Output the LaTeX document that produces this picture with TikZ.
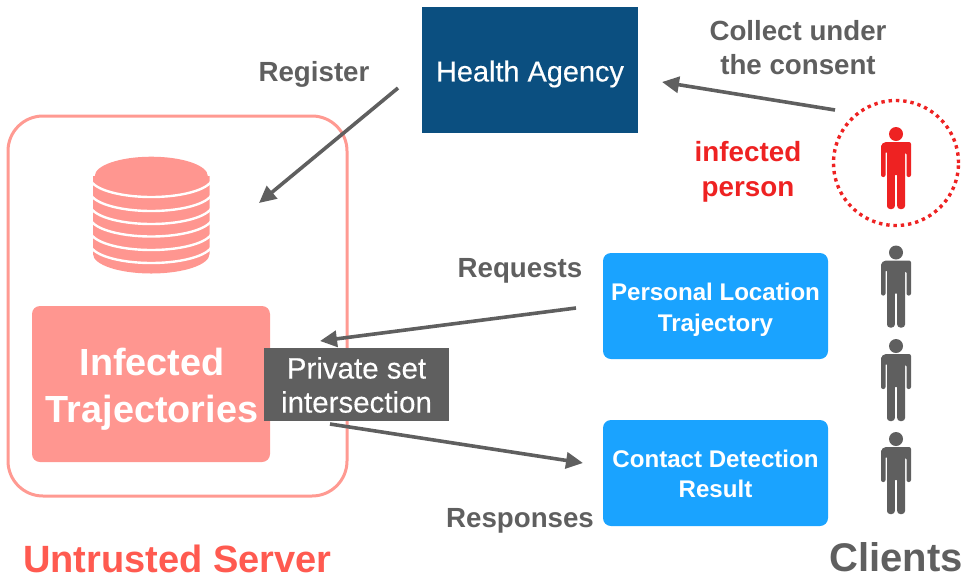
\documentclass[tikz,border=0pt]{standalone}
\usepackage{fontspec}
\setmainfont{Liberation Sans}
\newfontfamily\medfont[FakeBold=0.25]{Liberation Sans}
\usetikzlibrary{arrows.meta}
\definecolor{salmon}{HTML}{FF9690}
\definecolor{salmonline}{HTML}{FF9A92}
\definecolor{slate}{HTML}{5F5F5F}
\definecolor{navy}{HTML}{0B4F80}
\definecolor{sky}{HTML}{1AA3FF}
\definecolor{alert}{HTML}{EE2222}
\definecolor{untrust}{HTML}{FF5A50}
\newcommand{\fs}[2]{\fontsize{#1}{#2}\selectfont}
\tikzset{
  x=1pt,y=-1pt,
  flow/.style={draw=slate,line width=3.6pt,-{Triangle[length=17pt,width=16pt]}},
  graylabel/.style={text=slate,font=\bfseries\fs{27.7}{34},align=center,inner sep=0pt},
  redlabel/.style={text=alert,font=\bfseries\fs{27.8}{35},align=center,inner sep=0pt},
  bluebox/.style={fill=sky,rounded corners=8pt,minimum width=225pt,minimum height=106pt,inner sep=0pt},
  boxtext/.style={text=white,font=\bfseries\fs{24.1}{30.5},align=center,inner sep=0pt},
  person/.pic={
    \fill (0,0) circle (7);
    \fill[rounded corners=2.2pt] (-15,13) [rounded corners=5pt] -- (-15,8) [rounded corners=2pt] -- (15,8) -- (15,43) -- (10.5,43) -- (10.5,18.5) -- (9,18.5) -- (9,70) [rounded corners=3pt] -- (9,75) -- (1.2,75) [rounded corners=0pt] -- (1.2,41) -- (-1.2,41) [rounded corners=3pt] -- (-1.2,75) -- (-9,75) [rounded corners=0pt] -- (-9,18.5) -- (-10.5,18.5) [rounded corners=2pt] -- (-10.5,43) -- (-15,43) -- cycle;
  }
}
\begin{document}
\begin{tikzpicture}
\useasboundingbox (0,0) rectangle (969,579);
% server frame
\node[draw=salmonline,line width=3pt,rounded corners=35pt,minimum width=339pt,minimum height=380pt,inner sep=0pt] (server) at (177.5,306) {};
% database
\fill[salmon] (93,176) rectangle (209.5,254) (93,254) arc[start angle=180,end angle=0,x radius=58.25,y radius=19.5] -- cycle;
\foreach \yy in {177.5,191.5,204.5,217,230.5,243.5}
  \draw[white,line width=2.4pt] (90,\yy) arc[start angle=180,end angle=0,x radius=61.25,y radius=19.5];
\fill[white] (85,150) rectangle (217,176);
\fill[salmon] (151.3,176) ellipse[x radius=56.5,y radius=19.3];
% boxes
\node[fill=salmon,rounded corners=8pt,minimum width=238pt,minimum height=156pt,inner sep=0pt] (infected) at (151,384) {};
\node[text=white,font=\bfseries\fs{37.8}{47},align=center,inner sep=0pt] (infectedtext) at (152,389) {Infected\\Trajectories};
\node[fill=navy,minimum width=216pt,minimum height=126pt,inner sep=0pt] (agency) at (530,70) {};
\node[text=white,font=\medfont\fs{28.9}{34},inner sep=0pt] (agencytext) at (530,74) {Health Agency};
\node[bluebox] (personal) at (715.5,306) {};
\node[boxtext] (personaltext) at (715.5,310) {Personal Location\\Trajectory};
\node[bluebox] (result) at (715.5,473) {};
\node[boxtext] (resulttext) at (715.5,474) {Contact Detection\\Result};
% free connector ends
\coordinate (regA) at (398,88);
\coordinate (regB) at (259,203);
\coordinate (colA) at (835,110);
\coordinate (colB) at (662,82);
\coordinate (reqA) at (576,308);
\coordinate (reqB) at (320,341);
\coordinate (resA) at (330,424);
\coordinate (resB) at (583,463);
\draw[flow] (regA) -- (regB);
\draw[flow] (colA) -- (colB);
\draw[flow] (reqA) -- (reqB);
\draw[flow] (resA) -- (resB);
\node[fill=slate,minimum width=185pt,minimum height=73pt,inner sep=0pt] (psi) at (356.5,384.5) {};
\node[text=white,font=\medfont\fs{29.5}{34},align=center,inner sep=0pt] (psitext) at (356.5,385) {Private set\\intersection};
% labels
\node[graylabel] (register) at (314,74) {Register};
\node[graylabel] (collect) at (798,48) {Collect under\\the consent};
\node[graylabel] (requests) at (520,271) {Requests};
\node[graylabel] (responses) at (520,521) {Responses};
\node[redlabel] (infectedperson) at (748,172) {infected\\person};
\node[text=untrust,font=\bfseries\fs{38}{44},inner sep=0pt] (untrusted) at (177.5,559) {Untrusted Server};
\node[text=slate,font=\bfseries\fs{40}{46},inner sep=0pt] (clients) at (896,557) {Clients};
% clients
\node[draw=alert,line width=3.4pt,circle,dash pattern=on 3.4pt off 3.9pt,minimum size=125pt,inner sep=0pt] (ring) at (896,163) {};
\pic[alert] at (896,134) {person};
\pic[slate] at (896,252.5) {person};
\pic[slate] at (896,346) {person};
\pic[slate] at (896,439) {person};
\end{tikzpicture}
\end{document}
